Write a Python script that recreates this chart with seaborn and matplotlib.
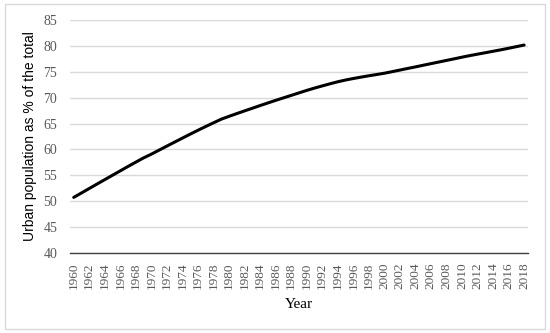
import matplotlib
matplotlib.use("Agg")
import matplotlib.pyplot as plt
import seaborn as sns
import pandas as pd
from matplotlib.patches import Rectangle

# Urban population share, 1960-2018
years = list(range(1960, 2019))
urban_pct = [
    50.75, 51.61, 52.47, 53.33, 54.18, 55.03, 55.88, 56.73, 57.56, 58.38,
    59.10, 59.88, 60.66, 61.43, 62.20, 62.96, 63.71, 64.44, 65.15, 65.85,
    66.40, 66.93, 67.45, 67.96, 68.48, 68.98, 69.48, 69.96, 70.44, 70.92,
    71.40, 71.85, 72.27, 72.68, 73.07, 73.41, 73.70, 73.97, 74.23, 74.47,
    74.72, 75.02, 75.33, 75.64, 75.94, 76.26, 76.57, 76.88, 77.19, 77.50,
    77.82, 78.12, 78.40, 78.68, 78.96, 79.24, 79.54, 79.85, 80.16,
]
tick_years = years[::2]
y_ticks = list(range(40, 90, 5))

df = pd.DataFrame({"Year": years, "Urban": urban_pct})

sns.set_style("white")
plt.rcParams["font.family"] = ["Liberation Serif", "DejaVu Serif"]

fig = plt.figure(figsize=(5.5, 3.33), dpi=100)
ax = fig.add_axes([0.127, 0.240, 0.833, 0.700])

# light frame around the whole chart
fig.patches.append(Rectangle((0.009, 0.012), 0.982, 0.976, transform=fig.transFigure,
                             fill=False, edgecolor="#d9d9d9", linewidth=1.0))

sns.lineplot(data=df, x="Year", y="Urban", ax=ax, color="black", linewidth=2.2)
ax.lines[0].set_solid_joinstyle("round")

ax.set_xlim(1959.5, 2018.5)
ax.set_ylim(40, 85)
ax.set_yticks(y_ticks)
ax.set_xticks(tick_years)
ax.set_xticklabels([str(y) for y in tick_years], rotation=90)
ax.yaxis.grid(True, color="#d9d9d9", linewidth=1.0)
ax.xaxis.grid(False)
for side in ["top", "right", "left"]:
    ax.spines[side].set_visible(False)
ax.spines["bottom"].set_color("#404040")
ax.spines["bottom"].set_linewidth(1.0)
ax.tick_params(axis="both", length=0, labelcolor="#595959")
ax.tick_params(axis="x", labelsize=9.5, pad=7)
ax.tick_params(axis="y", labelsize=10, pad=9)

ax.set_xlabel("Year", fontsize=11, color="black", labelpad=6)
ax.set_ylabel("Urban population as % of the total", fontsize=10, color="black",
              family=["Liberation Sans", "DejaVu Sans"], labelpad=5)

fig.savefig("out.png", dpi=100)
